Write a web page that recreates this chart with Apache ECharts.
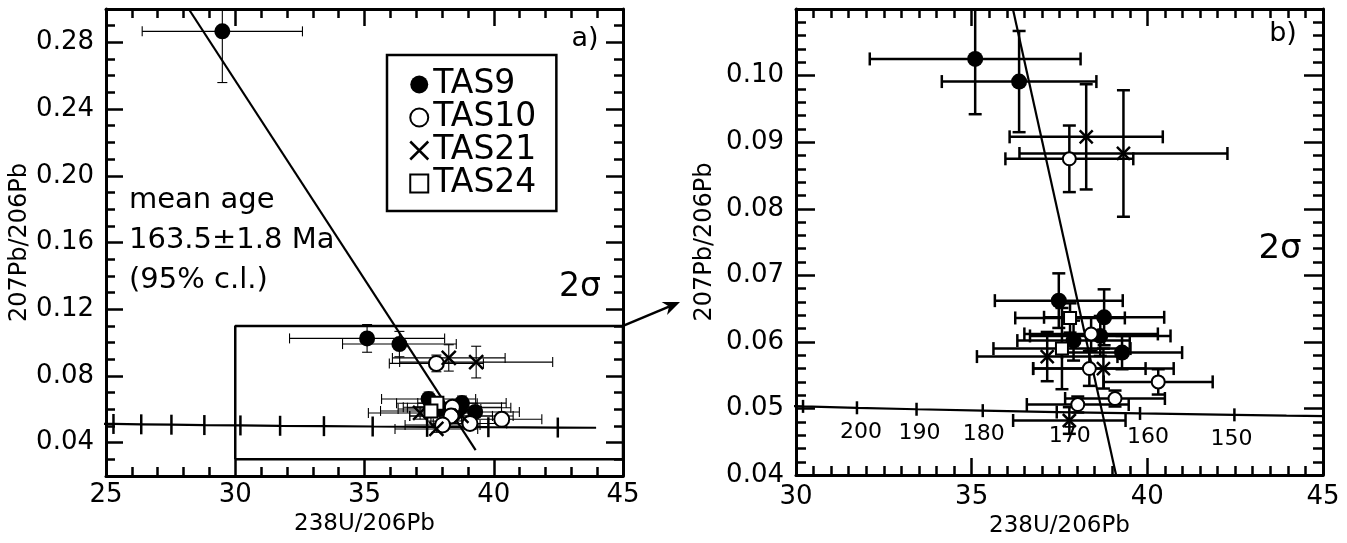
<!DOCTYPE html>
<html>
<head>
<meta charset="utf-8">
<script src="https://cdn.jsdelivr.net/npm/echarts@6.0.0/dist/echarts.min.js"></script>
<style>
html,body{margin:0;padding:0;background:#fff;}
#main{width:1347px;height:543px;}
</style>
</head>
<body>
<div id="main"></div>
<script>
// ---------------- data ----------------
const sampleNames = ['TAS9', 'TAS10', 'TAS21', 'TAS24'];

const tas9X    = [29.5, 35.10, 36.35, 37.48, 38.77, 37.90, 38.66, 39.28];
const tas9Y    = [0.2866, 0.1025, 0.0991, 0.0662, 0.0637, 0.0602, 0.0609, 0.0584];
const tas9Xerr = [3.1, 3.0, 2.2, 1.82, 1.71, 1.6, 2.0, 1.71];
const tas9Yerr = [0.0307, 0.0083, 0.0076, 0.0041, 0.0042, 0.0030, 0.0030, 0.0025];

const tas10X    = [37.78, 38.40, 38.35, 40.31, 39.08, 38.02];
const tas10Y    = [0.0875, 0.0612, 0.0560, 0.0540, 0.0515, 0.0506];
const tas10Xerr = [1.82, 1.9, 1.6, 1.55, 1.42, 1.45];
const tas10Yerr = [0.0050, 0.0025, 0.0026, 0.0019, 0.0012, 0.0012];

const tas21X    = [38.26, 39.32, 37.15, 38.75, 37.78];
const tas21Y    = [0.0908, 0.0883, 0.0578, 0.0560, 0.0482];
const tas21Xerr = [2.18, 2.96, 2.0, 2.0, 1.6];
const tas21Yerr = [0.0079, 0.0095, 0.0037, 0.0030, 0.0020];

const tas24X    = [37.80, 37.57];
const tas24Y    = [0.0636, 0.0590];
const tas24Xerr = [1.56, 1.95];
const tas24Yerr = [0.0022, 0.0061];

// concordia (Tera-Wasserburg) points, ages in Ma
const concAges = [260, 250, 240, 230, 220, 210, 200, 190, 180, 170, 160, 150, 145, 140];
const concX = [24.297, 25.289, 26.363, 27.531, 28.805, 30.200, 31.735, 33.431, 35.316, 37.422, 39.792, 42.478, 43.960, 45.547];
const concY = [0.05143, 0.05120, 0.05098, 0.05076, 0.05054, 0.05032, 0.05011, 0.04989, 0.04968, 0.04947, 0.04926, 0.04905, 0.04894, 0.04884];
const concLabelAges = [200, 190, 180, 170, 160, 150];

// regression (discordia) line
const discX = [28.2, 39.3];
const discY = [0.300, 0.0355];

// zoom box drawn in panel a
const boxX = [30, 30, 45, 45, 30];
const boxY = [0.03, 0.11, 0.11, 0.03, 0.03];

// axis ticks / labels
const yLabelsA = [0.04, 0.08, 0.12, 0.16, 0.20, 0.24, 0.28];
const yLabelsB = [0.04, 0.05, 0.06, 0.07, 0.08, 0.09, 0.10];
const axisNameX = '238U/206Pb';
const axisNameY = '207Pb/206Pb';

// ---------------- helpers ----------------
const FONT = 'DejaVu Sans';
const crossPath = 'path://M0,0L10,10M10,0L0,10';

function zip(xs, ys) { return xs.map((x, i) => [x, ys[i]]); }
function zipErr(xs, ys, ex, ey) { return xs.map((x, i) => [x, ys[i], ex[i], ey[i]]); }

const samples = [
  {name: 'TAS9',  x: tas9X,  y: tas9Y,  ex: tas9Xerr,  ey: tas9Yerr},
  {name: 'TAS10', x: tas10X, y: tas10Y, ex: tas10Xerr, ey: tas10Yerr},
  {name: 'TAS21', x: tas21X, y: tas21Y, ex: tas21Xerr, ey: tas21Yerr},
  {name: 'TAS24', x: tas24X, y: tas24Y, ex: tas24Xerr, ey: tas24Yerr}
];

// panel: 0 = a, 1 = b, 2 = legend
function markerStyle(name, panel) {
  if (name === 'TAS9') return {symbol: 'circle', size: panel === 2 ? 19 : 16, style: {color: '#000', opacity: 1}};
  if (name === 'TAS10') return {symbol: 'circle', size: panel === 1 ? 13 : 15, style: {color: '#fff', borderColor: '#000', borderWidth: 2, opacity: 1}};
  if (name === 'TAS21') return {symbol: crossPath, size: panel === 1 ? 13 : 14, style: {color: 'rgba(0,0,0,0)', borderColor: '#000', borderWidth: 2.5, opacity: 1}};
  return {symbol: 'rect', size: panel === 1 ? 12 : 13, style: {color: '#fff', borderColor: '#000', borderWidth: 2, opacity: 1}};
}

function errRender(lw, cap) {
  return function (params, api) {
    const x = api.value(0), y = api.value(1), ex = api.value(2), ey = api.value(3);
    const l = api.coord([x - ex, y]), r = api.coord([x + ex, y]);
    const t = api.coord([x, y + ey]), b = api.coord([x, y - ey]);
    const st = {stroke: '#000', lineWidth: lw, fill: null};
    return {
      type: 'group',
      children: [
        {type: 'line', shape: {x1: l[0], y1: l[1], x2: r[0], y2: r[1]}, style: st},
        {type: 'line', shape: {x1: l[0], y1: l[1] - cap, x2: l[0], y2: l[1] + cap}, style: st},
        {type: 'line', shape: {x1: r[0], y1: r[1] - cap, x2: r[0], y2: r[1] + cap}, style: st},
        {type: 'line', shape: {x1: t[0], y1: t[1], x2: b[0], y2: b[1]}, style: st},
        {type: 'line', shape: {x1: t[0] - cap, y1: t[1], x2: t[0] + cap, y2: t[1]}, style: st},
        {type: 'line', shape: {x1: b[0] - cap, y1: b[1], x2: b[0] + cap, y2: b[1]}, style: st}
      ]
    };
  };
}

// ---------------- axes ----------------
const tickStyle = {color: '#000', width: 2.5};
const lineStyle = {color: '#000', width: 3};
const labelStyle = {color: '#000', fontFamily: FONT, fontSize: 26};

function xAxisDef(grid, min, max, minorSplit, pos, showLabel, margin, nameGap) {
  return {
    type: 'value', gridIndex: grid, min: min, max: max, interval: 5, position: pos,
    name: showLabel ? axisNameX : '', nameLocation: 'middle', nameGap: nameGap,
    nameTextStyle: {color: '#000', fontFamily: FONT, fontSize: 23},
    axisLine: {show: true, onZero: false, lineStyle: lineStyle},
    axisTick: {show: true, inside: true, length: 17, lineStyle: tickStyle},
    minorTick: {show: true, splitNumber: minorSplit, length: 9, lineStyle: tickStyle},
    axisLabel: Object.assign({show: showLabel, margin: margin}, labelStyle),
    splitLine: {show: false}, minorSplitLine: {show: false}
  };
}

const xAxes = [
  xAxisDef(0, 25, 45, 5, 'bottom', true, 6, 34),
  xAxisDef(0, 25, 45, 5, 'top', false, 6, 0),
  xAxisDef(1, 30, 45, 10, 'bottom', true, 9, 32),
  xAxisDef(1, 30, 45, 10, 'top', false, 9, 0)
];

const yAxes = [
  // panel a: minor ticks every 0.01, labels every 0.04
  {
    type: 'value', gridIndex: 0, min: 0.02, max: 0.30, interval: 0.01, position: 'left',
    name: axisNameY, nameLocation: 'middle', nameGap: 73,
    nameTextStyle: {color: '#000', fontFamily: FONT, fontSize: 24},
    axisLine: {show: true, onZero: false, lineStyle: lineStyle},
    axisTick: {show: true, inside: true, length: 9, lineStyle: tickStyle},
    axisLabel: Object.assign({show: true, margin: 12, customValues: yLabelsA, formatter: v => v.toFixed(2)}, labelStyle),
    splitLine: {show: false}
  },
  {
    type: 'value', gridIndex: 0, min: 0.02, max: 0.30, interval: 0.01, position: 'right',
    axisLine: {show: true, onZero: false, lineStyle: lineStyle},
    axisTick: {show: true, inside: true, length: 9, lineStyle: tickStyle},
    axisLabel: {show: false}, splitLine: {show: false}
  },
  {
    type: 'value', gridIndex: 0, min: 0.02, max: 0.30, position: 'left',
    axisLine: {show: false},
    axisTick: {show: true, inside: true, length: 17, lineStyle: tickStyle, customValues: yLabelsA},
    axisLabel: {show: false}, splitLine: {show: false}
  },
  {
    type: 'value', gridIndex: 0, min: 0.02, max: 0.30, position: 'right',
    axisLine: {show: false},
    axisTick: {show: true, inside: true, length: 17, lineStyle: tickStyle, customValues: yLabelsA},
    axisLabel: {show: false}, splitLine: {show: false}
  },
  // panel b
  {
    type: 'value', gridIndex: 1, min: 0.04, max: 0.11, interval: 0.01, position: 'left',
    name: axisNameY, nameLocation: 'middle', nameGap: 79,
    nameTextStyle: {color: '#000', fontFamily: FONT, fontSize: 24},
    axisLine: {show: true, onZero: false, lineStyle: lineStyle},
    axisTick: {show: true, inside: true, length: 19, lineStyle: tickStyle},
    minorTick: {show: true, splitNumber: 5, length: 10, lineStyle: tickStyle},
    axisLabel: Object.assign({show: true, margin: 12, customValues: yLabelsB, formatter: v => v.toFixed(2)}, labelStyle),
    splitLine: {show: false}, minorSplitLine: {show: false}
  },
  {
    type: 'value', gridIndex: 1, min: 0.04, max: 0.11, interval: 0.01, position: 'right',
    axisLine: {show: true, onZero: false, lineStyle: lineStyle},
    axisTick: {show: true, inside: true, length: 19, lineStyle: tickStyle},
    minorTick: {show: true, splitNumber: 5, length: 10, lineStyle: tickStyle},
    axisLabel: {show: false}, splitLine: {show: false}, minorSplitLine: {show: false}
  }
];

// ---------------- series ----------------
const series = [];
const panels = [
  {xi: 0, yi: 0, errLw: 1.1, cap: 5, concLw: 2.2, concTick: 20, lastAge: 145},
  {xi: 2, yi: 4, errLw: 2.5, cap: 6.5, concLw: 2.2, concTick: 13, lastAge: 140}
];

panels.forEach((p, pi) => {
  const concIdx = concAges.map((a, i) => i).filter(i => concAges[i] >= p.lastAge);
  // concordia curve
  series.push({
    type: 'line', name: 'concordia-' + pi, xAxisIndex: p.xi, yAxisIndex: p.yi,
    data: concIdx.map(i => [concX[i], concY[i]]),
    showSymbol: false, symbol: 'none', clip: true, silent: true,
    lineStyle: {color: '#000', width: p.concLw}, z: 2
  });
  // concordia age ticks (every 10 Ma) with labels in panel b
  const ageDx = {200: 4, 190: 3, 180: 1, 170: 13, 160: 8, 150: -3};
  series.push({
    type: 'scatter', name: 'ages-' + pi, xAxisIndex: p.xi, yAxisIndex: p.yi, clip: true, silent: true,
    symbol: 'rect', symbolSize: [2.5, p.concTick],
    itemStyle: {color: '#000', opacity: 1},
    data: concIdx.filter(i => concAges[i] % 10 === 0).map(i => ({
      value: [concX[i], concY[i]],
      label: {
        show: pi === 1 && concLabelAges.indexOf(concAges[i]) >= 0,
        formatter: String(concAges[i]),
        position: 'inside',
        offset: [ageDx[concAges[i]] || 0, 24],
        color: '#000', fontFamily: FONT, fontSize: 22
      }
    })),
    z: 2
  });
  // discordia
  series.push({
    type: 'line', name: 'regression-' + pi, xAxisIndex: p.xi, yAxisIndex: p.yi,
    data: zip(discX, discY), showSymbol: false, symbol: 'none', clip: true, silent: true,
    lineStyle: {color: '#000', width: 2.2}, z: 2
  });
  if (pi === 0) {
    series.push({
      type: 'line', name: 'zoom-box', xAxisIndex: p.xi, yAxisIndex: p.yi,
      data: zip(boxX, boxY), showSymbol: false, symbol: 'none', clip: false, silent: true,
      lineStyle: {color: '#000', width: 2.5}, z: 2
    });
  }
  // error bars
  samples.forEach(s => {
    series.push({
      type: 'custom', name: s.name + '-err-' + pi, xAxisIndex: p.xi, yAxisIndex: p.yi,
      clip: true, silent: true, encode: {x: 0, y: 1},
      data: zipErr(s.x, s.y, s.ex, s.ey),
      renderItem: errRender(p.errLw, p.cap), z: 3
    });
  });
  // markers
  samples.forEach(s => {
    const m = markerStyle(s.name, pi);
    series.push({
      type: 'scatter', name: s.name, xAxisIndex: p.xi, yAxisIndex: p.yi, clip: true,
      symbol: m.symbol, symbolSize: m.size, itemStyle: m.style,
      data: zip(s.x, s.y), z: 5
    });
  });
});

const legendItems = sampleNames.map(n => {
  const m = markerStyle(n, 2);
  return {name: n, icon: m.symbol, itemStyle: m.style};
});

const option = {
  animation: false,
  backgroundColor: '#fff',
  grid: [
    {left: 106, top: 9, width: 517, height: 467, containLabel: false},
    {left: 796, top: 9, width: 527, height: 476, containLabel: false}
  ],
  xAxis: xAxes,
  yAxis: yAxes,
  legend: {
    show: true, orient: 'vertical', left: 387, top: 55,
    data: legendItems, selectedMode: false,
    itemWidth: 18, itemHeight: 18, itemGap: 0,
    padding: [13, 20, 11, 22],
    borderColor: '#000', borderWidth: 2.5, backgroundColor: '#fff',
    textStyle: {color: '#000', fontFamily: FONT, fontSize: 33, lineHeight: 30}
  },
  series: series
};

const chart = echarts.init(document.getElementById('main'), null, {renderer: 'canvas'});
chart.setOption(option);

// annotations
const p0 = chart.convertToPixel({xAxisIndex: 0, yAxisIndex: 0}, [boxX[2], boxY[2]]);
const p1 = [680, 302];
const ang = Math.atan2(p1[1] - p0[1], p1[0] - p0[0]);
const hl = 17, hw = 7;
const back = [p1[0] - hl * Math.cos(ang), p1[1] - hl * Math.sin(ang)];
const head = [
  p1,
  [back[0] + hw * Math.sin(ang), back[1] - hw * Math.cos(ang)],
  [p1[0] - 0.7 * hl * Math.cos(ang), p1[1] - 0.7 * hl * Math.sin(ang)],
  [back[0] - hw * Math.sin(ang), back[1] + hw * Math.cos(ang)]
];

function txt(id, x, y, text, size, align) {
  return {
    type: 'text', id: id, x: x, y: y, z: 100,
    style: {text: text, fill: '#000', font: size + 'px "' + FONT + '"', textAlign: align || 'center', textVerticalAlign: 'middle'}
  };
}

chart.setOption({
  graphic: [
    {type: 'line', id: 'arrowLine', z: 100, shape: {x1: p0[0], y1: p0[1], x2: back[0] + 0.3 * hl * Math.cos(ang), y2: back[1] + 0.3 * hl * Math.sin(ang)}, style: {stroke: '#000', lineWidth: 2.5}},
    {type: 'polygon', id: 'arrowHead', z: 100, shape: {points: head}, style: {fill: '#000'}},
    txt('labA', 585, 39, 'a)', 27),
    txt('labB', 1283, 34, 'b)', 27),
    txt('sigA', 580, 287, '2σ', 33),
    txt('sigB', 1280, 249, '2σ', 34),
    txt('mean1', 129, 200, 'mean age', 29, 'left'),
    txt('mean2', 129, 240, '163.5±1.8 Ma', 29, 'left'),
    txt('mean3', 129, 280, '(95% c.l.)', 29, 'left')
  ]
});
</script>
</body>
</html>
